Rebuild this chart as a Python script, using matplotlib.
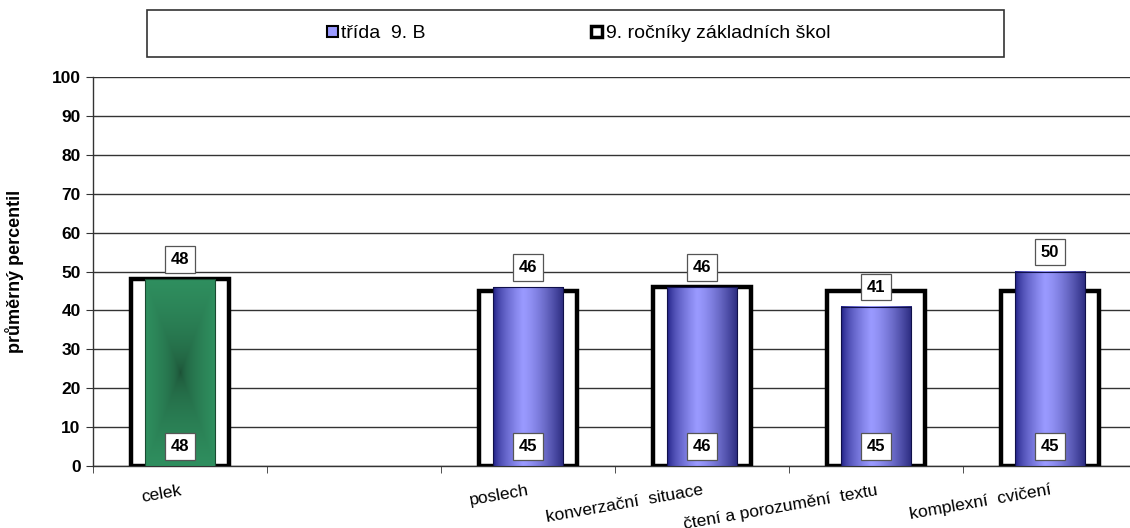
import matplotlib.pyplot as plt
import numpy as np
from matplotlib.patches import Patch, Rectangle
from matplotlib.colors import to_rgb

categories = ["celek", "", "poslech", "konverzační  situace",
              "čtení a porozumění  textu", "komplexní  cvičení"]
class_values = [48, None, 46, 46, 41, 50]
national_values = [48, None, 45, 46, 45, 45]
legend_labels = ["třída  9. B", "9. ročníky základních škol"]
y_ticks = [0, 10, 20, 30, 40, 50, 60, 70, 80, 90, 100]

plt.rcParams["font.family"] = ["Liberation Sans", "DejaVu Sans"]


def blue_gradient(n=200):
    dark_l = np.array(to_rgb("#15157a"))
    light = np.array(to_rgb("#9a9aff"))
    dark_r = np.array(to_rgb("#2a2a7e"))
    x = np.linspace(0, 1, n)
    img = np.zeros((2, n, 3))
    peak = 0.42
    for i, t in enumerate(x):
        if t < peak:
            f = (t / peak) ** 0.6
            c = dark_l + (light - dark_l) * f
        else:
            f = ((t - peak) / (1 - peak)) ** 1.4
            c = light + (dark_r - light) * f
        img[:, i] = c
    return img


def green_gradient(nx=100, ny=300):
    dark = np.array(to_rgb("#1a4a31"))
    light = np.array(to_rgb("#2f8f5f"))
    u = np.abs(np.linspace(-1, 1, nx))[None, :]
    v = np.abs(np.linspace(-1, 1, ny))[:, None]
    f = np.clip(np.maximum(u, v), 0, 1) ** 0.45
    return dark + (light - dark) * f[..., None]


fig = plt.figure(figsize=(11.3, 5.28), dpi=100)
ax = fig.add_axes([93 / 1130, 62 / 528, 1044 / 1130, 389 / 528])

x = np.arange(len(categories))
outer_w = 0.565
inner_w = 0.405

for i in x:
    nv = national_values[i]
    cv = class_values[i]
    if nv is None:
        continue
    ax.bar(i, nv, width=outer_w, facecolor="white", edgecolor="black",
           linewidth=3.2, zorder=3)
    bar = ax.bar(i, cv, width=inner_w, facecolor="none", edgecolor="none",
                 zorder=4)[0]
    x0 = bar.get_x()
    img = green_gradient() if i == 0 else blue_gradient()
    ax.imshow(img, extent=(x0, x0 + inner_w, 0, cv), aspect="auto",
              zorder=4, interpolation="bilinear")
    ax.add_patch(Rectangle((x0, 0), inner_w, cv, facecolor="none",
                           edgecolor="#10104a" if i else "#1a4a31",
                           linewidth=0.8, zorder=4.5))
    box = dict(boxstyle="square,pad=0.35", facecolor="white",
               edgecolor="#555555", linewidth=0.9)
    ax.text(i, cv + 5, str(cv), ha="center", va="center", fontsize=12,
            fontweight="bold", bbox=box, zorder=6)
    ax.text(i, 5, str(nv), ha="center", va="center", fontsize=12,
            fontweight="bold", bbox=box, zorder=6)

ax.set_xlim(-0.5, len(categories) - 0.5)
ax.set_ylim(0, 100)
ax.set_yticks(y_ticks)
ax.set_yticklabels([str(t) for t in y_ticks], fontsize=12.5,
                   fontweight="bold")
ax.yaxis.grid(True, color="#333333", linewidth=1.0)
ax.set_axisbelow(True)

ax.set_xticks(x)
ax.set_xticklabels(categories, rotation=10, ha="right",
                   rotation_mode="anchor", fontsize=12.5)
ax.tick_params(axis="x", length=0, pad=12)
ax.set_xticks(np.arange(len(categories) + 1) - 0.5, minor=True)
ax.tick_params(axis="x", which="minor", length=5, direction="out",
               color="#333333")
ax.tick_params(axis="y", length=5, direction="out", color="#333333",
               pad=4)

for side in ["top", "right"]:
    ax.spines[side].set_visible(False)
for side in ["left", "bottom"]:
    ax.spines[side].set_color("#333333")
    ax.spines[side].set_linewidth(1.0)

ax.set_ylabel("průměrný percentil", fontsize=13, fontweight="bold")
ax.yaxis.set_label_coords(-0.066, 0.5)

fig.patches.append(Rectangle((147 / 1130, 1 - 57 / 528), 857 / 1130,
                             47 / 528, transform=fig.transFigure,
                             facecolor="white", edgecolor="#333333",
                             linewidth=1.2, zorder=0))
handles = [
    Patch(facecolor="#9a9aff", edgecolor="black", linewidth=1.5),
    Patch(facecolor="white", edgecolor="black", linewidth=2.5),
]
fig.legend(handles, legend_labels, loc="center",
           bbox_to_anchor=(0.512, 1 - 34 / 528), ncol=2, frameon=False,
           fontsize=14, handlelength=0.55, handleheight=0.55,
           handletextpad=0.2, columnspacing=8.5)

fig.savefig("out.png", dpi=100)
